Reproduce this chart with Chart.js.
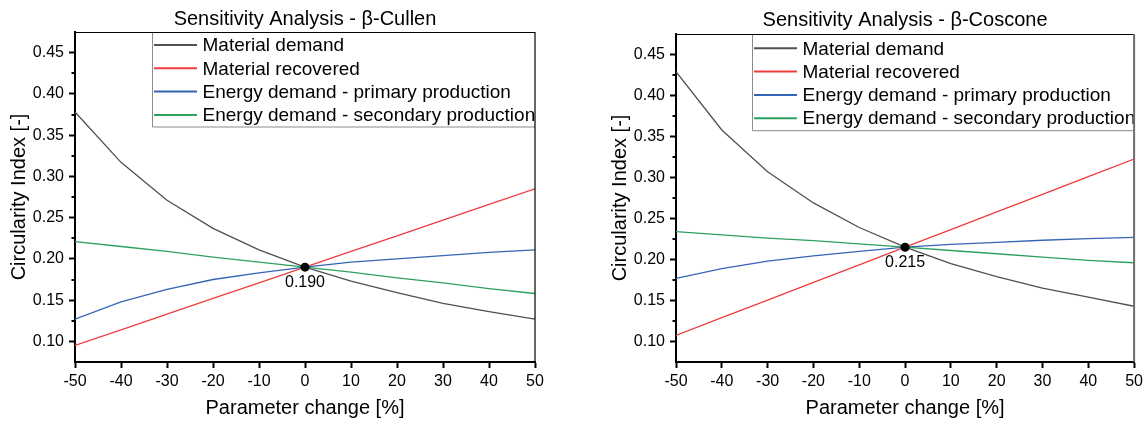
<!DOCTYPE html>
<html><head><meta charset="utf-8">
<script src="https://cdn.jsdelivr.net/npm/chart.js@4.4.1/dist/chart.umd.min.js"></script>
<style>
html,body{margin:0;padding:0;background:#fff;}
#wrap{position:relative;width:1147px;height:421px;overflow:hidden;background:#fff;}
canvas{position:absolute;top:0;}
</style></head><body>
<div id="wrap">
<canvas id="c1" width="560" height="421" style="left:0;width:560px;height:421px"></canvas>
<canvas id="c2" width="567" height="421" style="left:580px;width:567px;height:421px"></canvas>
</div>
<script>
// ---------------- DATA ----------------
const xValues = [-50, -40, -30, -20, -10, 0, 10, 20, 30, 40, 50];
const xTicks = [-50, -40, -30, -20, -10, 0, 10, 20, 30, 40, 50];
const yTicks = [0.10, 0.15, 0.20, 0.25, 0.30, 0.35, 0.40, 0.45];
const seriesLabels = ['Material demand', 'Material recovered', 'Energy demand - primary production', 'Energy demand - secondary production'];

const cullenTitle = 'Sensitivity Analysis - β-Cullen';
const cullenMaterialDemand    = [0.378, 0.317, 0.271, 0.237, 0.211, 0.190, 0.173, 0.159, 0.146, 0.136, 0.127];
const cullenMaterialRecovered = [0.095, 0.114, 0.133, 0.152, 0.171, 0.190, 0.209, 0.228, 0.247, 0.266, 0.285];
const cullenEnergyPrimary     = [0.127, 0.148, 0.163, 0.175, 0.183, 0.190, 0.196, 0.200, 0.204, 0.208, 0.211];
const cullenEnergySecondary   = [0.221, 0.215, 0.209, 0.202, 0.196, 0.190, 0.184, 0.177, 0.171, 0.164, 0.158];
const cullenBase = 0.190;

const cosconeTitle = 'Sensitivity Analysis - β-Coscone';
const cosconeMaterialDemand    = [0.429, 0.358, 0.307, 0.269, 0.239, 0.215, 0.195, 0.179, 0.165, 0.154, 0.143];
const cosconeMaterialRecovered = [0.1075, 0.129, 0.1505, 0.172, 0.1935, 0.215, 0.2365, 0.258, 0.2795, 0.301, 0.3225];
const cosconeEnergyPrimary     = [0.177, 0.189, 0.198, 0.2045, 0.210, 0.215, 0.2185, 0.221, 0.2235, 0.2255, 0.227];
const cosconeEnergySecondary   = [0.234, 0.230, 0.226, 0.223, 0.219, 0.215, 0.211, 0.207, 0.203, 0.199, 0.196];
const cosconeBase = 0.215;

const xAxisTitle = 'Parameter change [%]';
const yAxisTitle = 'Circularity Index [-]';

// ---------------- STYLE ----------------
const FAMILY = "'Liberation Sans', Arial, sans-serif";
const seriesColors = ['#505050', '#f03c3c', '#3465b4', '#2ba15c'];

const decorPlugin = {
  id: 'decor',
  afterDraw(chart, args, o) {
    const ctx = chart.ctx;
    const a = chart.chartArea;
    const xs = chart.scales.x, ys = chart.scales.y;
    const ty = Math.round(a.top) + 0.5;
    ctx.save();
    // legend box
    const L = o.legend;
    ctx.fillStyle = '#fff';
    ctx.fillRect(L.left, ty + 0.5, a.right - L.left, L.height);
    ctx.strokeStyle = '#8c8c8c'; ctx.lineWidth = 1;
    ctx.beginPath();
    ctx.moveTo(L.left + 0.5, ty); ctx.lineTo(L.left + 0.5, ty + L.height);
    ctx.lineTo(a.right, ty + L.height); ctx.stroke();
    ctx.font = '19px ' + FAMILY;
    ctx.textAlign = 'left'; ctx.textBaseline = 'middle';
    seriesLabels.forEach((lab, i) => {
      const y = a.top + L.row0 + i * L.gap;
      ctx.strokeStyle = seriesColors[i]; ctx.lineWidth = 2;
      ctx.beginPath(); ctx.moveTo(L.left + 2, y); ctx.lineTo(L.left + 45, y); ctx.stroke();
      ctx.fillStyle = '#000';
      ctx.fillText(lab, L.left + 50.5, y + 1);
    });
    // top and right frame lines
    ctx.lineWidth = 1;
    ctx.strokeStyle = '#000';
    ctx.beginPath(); ctx.moveTo(a.left, ty); ctx.lineTo(a.right, ty); ctx.stroke();
    ctx.strokeStyle = o.rightColor; ctx.lineWidth = o.rightWidth;
    ctx.beginPath(); ctx.moveTo(a.right, a.top); ctx.lineTo(a.right, a.bottom); ctx.stroke();
    // minor y ticks
    ctx.strokeStyle = '#000'; ctx.lineWidth = 2;
    for (let i = 0; i < yTicks.length - 1; i++) {
      const v = (yTicks[i] + yTicks[i + 1]) / 2;
      const py = Math.round(ys.getPixelForValue(v));
      ctx.beginPath(); ctx.moveTo(a.left - 3.5, py); ctx.lineTo(a.left, py); ctx.stroke();
    }
    // title
    ctx.fillStyle = '#000';
    ctx.font = '20px ' + FAMILY;
    ctx.textAlign = 'center'; ctx.textBaseline = 'middle';
    ctx.fillText(o.title, (a.left + a.right) / 2, a.top - o.titleGap);
    // base value label
    ctx.font = '16px ' + FAMILY;
    ctx.fillText(o.baseLabel, xs.getPixelForValue(0), ys.getPixelForValue(o.base) + 15.5);
    ctx.restore();
  }
};

function buildChart(id, series, base, layout) {
  const datasets = series.map((arr, i) => ({
    label: seriesLabels[i],
    data: xValues.map((x, j) => ({ x: x, y: arr[j] })),
    borderColor: seriesColors[i],
    backgroundColor: seriesColors[i],
    borderWidth: 1.3,
    pointRadius: 0,
    tension: 0,
    fill: false,
    order: 4 - i
  }));
  datasets.push({
    label: 'base',
    type: 'scatter',
    data: [{ x: 0, y: base }],
    pointRadius: 4.5,
    pointBackgroundColor: '#000',
    pointBorderColor: '#000',
    borderWidth: 0,
    showLine: false,
    order: -1
  });
  return new Chart(document.getElementById(id), {
    type: 'line',
    data: { datasets },
    plugins: [decorPlugin],
    options: {
      responsive: false,
      animation: false,
      devicePixelRatio: 1,
      layout: { padding: { left: 0, top: layout.top, right: layout.width - layout.right, bottom: 0 } },
      plugins: {
        legend: { display: false },
        tooltip: { enabled: false },
        decor: {
          title: layout.title, titleGap: layout.titleGap, base: base, baseLabel: base.toFixed(3),
          rightColor: layout.rightColor, rightWidth: layout.rightWidth,
          legend: layout.legend
        }
      },
      scales: {
        x: {
          type: 'linear', min: -50, max: 50,
          afterBuildTicks: s => { s.ticks = xTicks.map(v => ({ value: v })); },
          afterFit: s => { s.height = 421 - layout.bottom; },
          ticks: { font: { size: 16, family: FAMILY }, color: '#000', padding: 4, maxRotation: 0 },
          grid: { drawOnChartArea: false, drawTicks: true, tickLength: 6, tickWidth: 2, tickColor: '#000' },
          border: { display: true, color: '#000', width: 2 },
          title: { display: true, text: xAxisTitle, color: '#000', font: { size: 20, family: FAMILY }, padding: { top: 0, bottom: 1 } }
        },
        y: {
          type: 'linear', min: 0.075, max: 0.475,
          afterBuildTicks: s => { s.ticks = yTicks.map(v => ({ value: v })); },
          afterFit: s => { s.width = layout.left; },
          ticks: { font: { size: 16, family: FAMILY }, color: '#000', padding: 5, callback: v => v.toFixed(2) },
          grid: { drawOnChartArea: false, drawTicks: true, tickLength: 6, tickWidth: 2, tickColor: '#000' },
          border: { display: true, color: '#000', width: 2 },
          title: { display: true, text: yAxisTitle, color: '#000', font: { size: 20, family: FAMILY }, padding: { top: layout.yTitlePad, bottom: 0 } }
        }
      }
    }
  });
}

buildChart('c1',
  [cullenMaterialDemand, cullenMaterialRecovered, cullenEnergyPrimary, cullenEnergySecondary],
  cullenBase,
  { title: cullenTitle, width: 560, left: 75, right: 535, top: 32, bottom: 362, titleGap: 13, yTitlePad: 7.5,
    rightColor: '#000', rightWidth: 1.2,
    legend: { left: 152, height: 94.5, row0: 13, gap: 23.3 } });

buildChart('c2',
  [cosconeMaterialDemand, cosconeMaterialRecovered, cosconeEnergyPrimary, cosconeEnergySecondary],
  cosconeBase,
  { title: cosconeTitle, width: 567, left: 96, right: 557, top: 34, bottom: 362, titleGap: 14, yTitlePad: 28.5,
    rightColor: '#6e6e6e', rightWidth: 2,
    legend: { left: 172, height: 96.2, row0: 14.3, gap: 23.3 } });
</script>
</body></html>
